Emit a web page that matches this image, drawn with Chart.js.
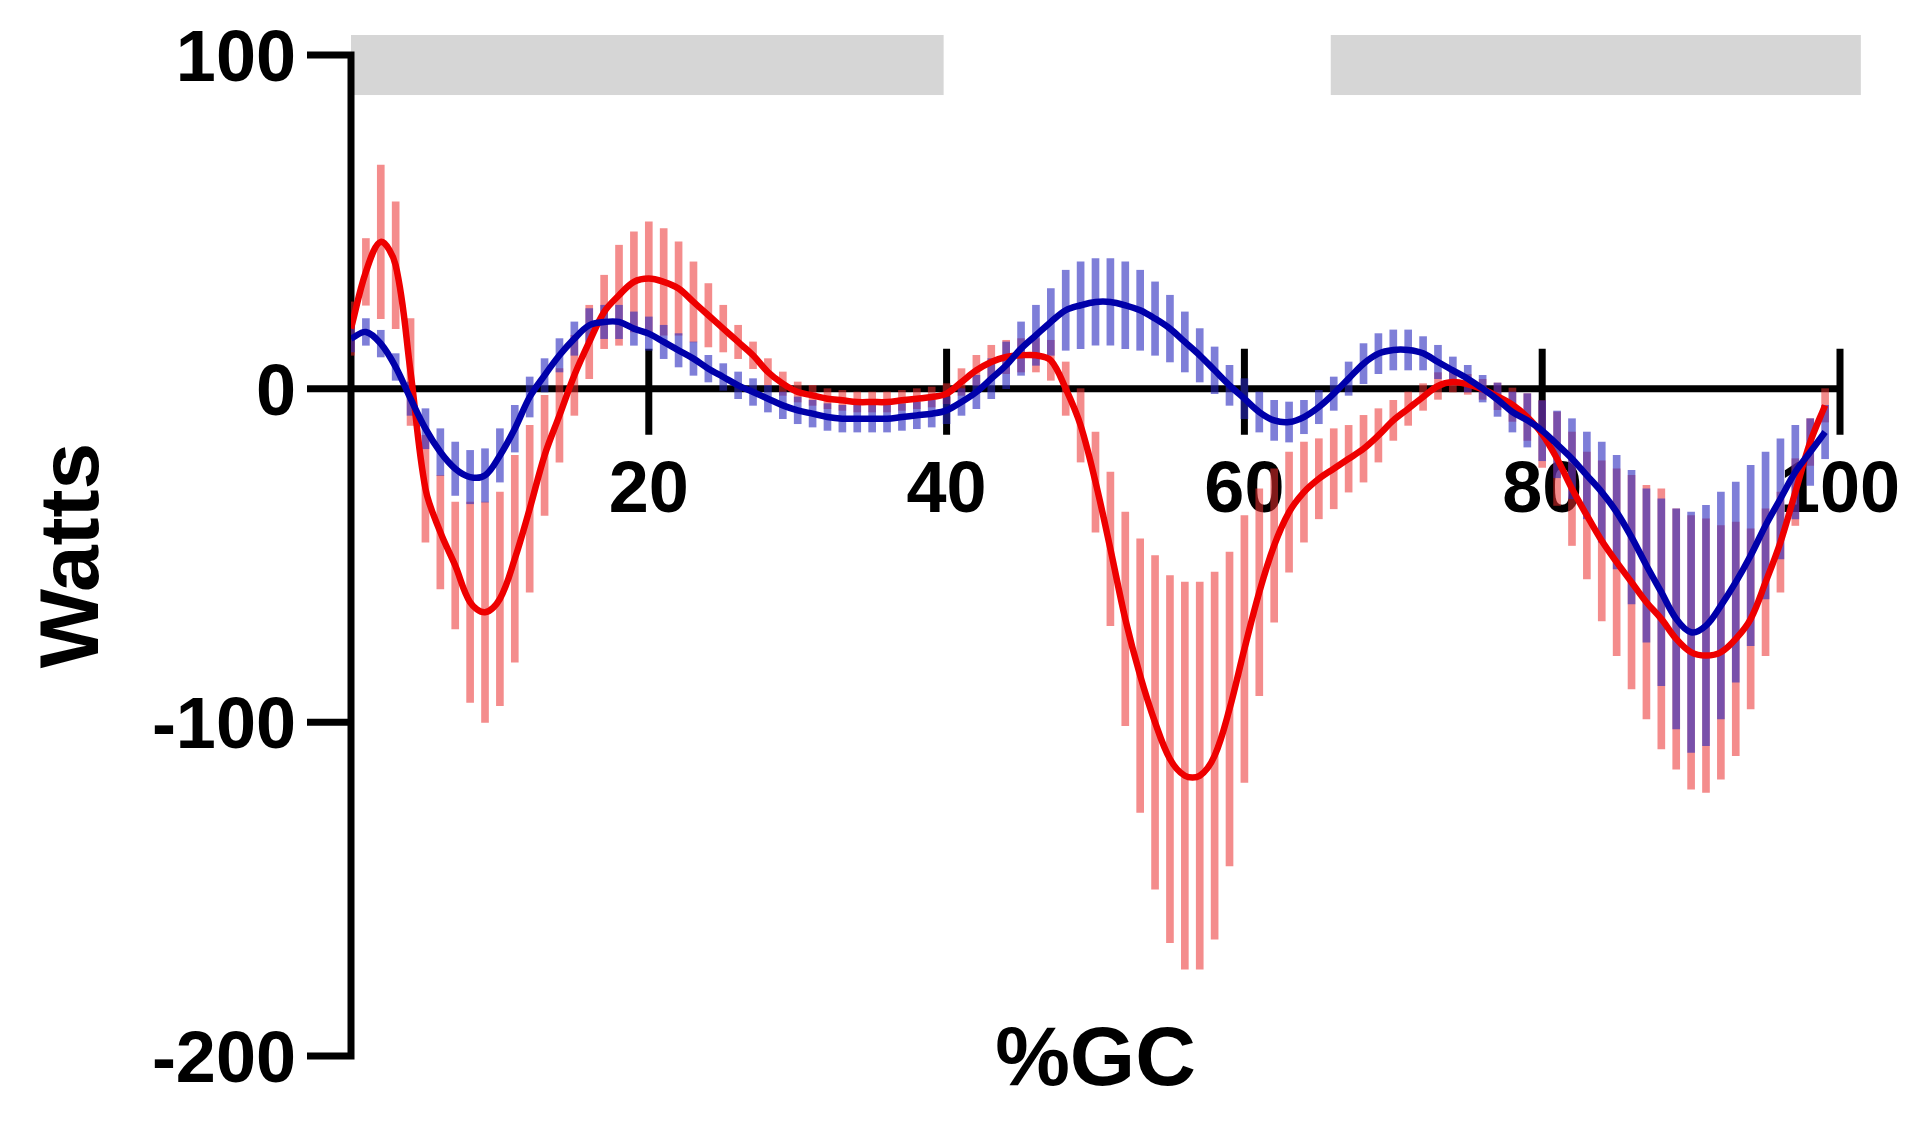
<!DOCTYPE html>
<html>
<head>
<meta charset="utf-8">
<title>Watts vs %GC</title>
<script src="https://cdn.jsdelivr.net/npm/chart.js@4.4.1/dist/chart.umd.min.js"></script>
<style>
  html, body { margin: 0; padding: 0; background: #fff; }
  #wrap { width: 1932px; height: 1135px; }
</style>
</head>
<body>
<div id="wrap"><canvas id="powerChart" width="1932" height="1135"></canvas></div>
<script>
// % gait cycle, one sample per percent
const gcPercent = [
  0, 1, 2, 3, 4, 5, 6, 7, 8, 9, 10, 11, 12, 13, 14, 15, 16, 17, 18, 19,
  20, 21, 22, 23, 24, 25, 26, 27, 28, 29, 30, 31, 32, 33, 34, 35, 36, 37, 38, 39,
  40, 41, 42, 43, 44, 45, 46, 47, 48, 49, 50, 51, 52, 53, 54, 55, 56, 57, 58, 59,
  60, 61, 62, 63, 64, 65, 66, 67, 68, 69, 70, 71, 72, 73, 74, 75, 76, 77, 78, 79,
  80, 81, 82, 83, 84, 85, 86, 87, 88, 89, 90, 91, 92, 93, 94, 95, 96, 97, 98, 99
];

const redMean = [
  18, 35, 44, 37, 5, -30, -43, -53, -64, -67, -63, -51, -36, -20, -8, 4, 14, 23, 28, 32,
  33, 32, 30, 26, 22, 18, 14, 10, 5, 1.5, -1, -2, -3, -3.5, -4, -4, -4, -3.5, -3, -2.5,
  -1.5, 2, 5.5, 8, 9.5, 10, 10, 8.5, 0, -11, -28, -48, -69, -86, -100, -111, -116, -116, -110, -96,
  -78, -61, -47, -37, -31, -27, -24, -21, -18, -14, -9.5, -6, -2.5, 0.8, 2, 1.3, -0.2, -2.3, -4.8, -8.5,
  -13.6, -21, -30, -38, -45.6, -52, -58, -64, -69, -75, -79, -80, -79, -75, -69, -58, -46, -31, -16, -5
];

const redSD = [
  8, 10, 23, 19, 16, 16, 17, 19, 30, 33, 32, 31, 25, 18, 14, 12, 11, 11, 15, 15,
  17, 16, 14, 12, 9.5, 7, 5, 4, 4, 3.5, 3, 3, 3, 3, 3, 3, 3, 3, 3, 3,
  3, 4, 4.5, 5, 5, 5, 5, 6, 8, 11, 15, 23, 32, 41, 50, 55, 58, 58, 55, 47,
  40, 31, 23, 18, 15, 12, 12, 10, 10, 8, 6, 5, 4, 4, 3, 3, 3, 4, 5, 7,
  10, 14, 17, 19, 24, 28, 32, 35, 39, 39, 41, 41, 38, 35, 27, 22, 15, 10, 7, 5
];

const blueMean = [
  15, 17, 13.5, 6.5, -3, -12, -19, -24, -26.5, -26, -20, -12, -2.5, 4, 10, 15, 19, 20, 20, 18,
  16.5, 14, 11.5, 9, 6, 3.5, 1, -1, -3, -5, -6.5, -7.5, -8.5, -9, -9, -9, -9, -8.5, -8, -7.5,
  -6.5, -4, -1, 3, 7, 12, 16, 20, 23.5, 25, 26, 26, 25, 23.5, 21, 18, 14, 10, 5.5, 1,
  -3, -7, -9.5, -10, -8.5, -5.5, -1.5, 3, 7.5, 10.5, 11.6, 11.6, 10.6, 8, 5.5, 3, 0, -3.3, -7, -9.5,
  -12.6, -16.7, -21, -26, -31, -37, -44.5, -53, -61, -69, -73, -71, -65, -58, -50, -41, -33, -25, -19, -13
];

const blueSD = [
  4, 4, 4, 4, 5, 6, 7, 8, 8, 8, 8, 7, 6, 5, 5, 5, 5, 5, 5, 5,
  5, 5, 5, 5, 4, 4, 4, 4, 4, 4, 4, 4, 4, 4, 4, 4, 4, 4, 4, 4,
  4, 4, 5, 6, 7, 8, 9, 10, 12, 13, 13, 13, 13, 12, 11, 10, 9, 8, 7, 6,
  6, 6, 6, 6, 5, 5, 5, 5, 6, 6, 6, 6, 5, 5, 4, 4, 4, 5, 6, 8,
  9, 10, 12, 13, 15, 17, 20, 23, 28, 33, 36, 36, 34, 30, 27, 22, 18, 14, 10, 8
];

const xTicks = [20, 40, 60, 80, 100];
const yTicks = [100, 0, -100, -200];

// grey phase bars above the plot: [start %GC, end %GC], drawn between two Watt levels
const phaseBars = [[0, 39.8], [65.8, 101.4]];
const phaseBarLevels = [88, 106];

const FONT = '"Liberation Sans", Arial, Helvetica, sans-serif';

function errorBars(means, sds) {
  return gcPercent.map((x, i) => ({ x, y: [means[i] - sds[i], means[i] + sds[i]] }));
}

function meanLine(means) {
  return gcPercent.map((x, i) => ({ x, y: means[i] }));
}

// axes in the GraphPad style: y axis on the left, x axis crossing at zero
const gcAxes = {
  id: 'gcAxes',
  beforeDatasetsDraw(chart) {
    const { ctx, scales: { x, y } } = chart;
    const x0 = x.getPixelForValue(0);
    const y0 = y.getPixelForValue(0);

    ctx.save();

    ctx.fillStyle = '#d6d6d6';
    phaseBars.forEach(([a, b]) => {
      const left = x.getPixelForValue(a);
      const right = x.getPixelForValue(b);
      const top = y.getPixelForValue(phaseBarLevels[1]);
      const bottom = y.getPixelForValue(phaseBarLevels[0]);
      ctx.fillRect(left, top, right - left, bottom - top);
    });

    ctx.strokeStyle = '#000';
    ctx.lineWidth = 7;
    ctx.lineCap = 'butt';
    ctx.beginPath();
    ctx.moveTo(x0, y.getPixelForValue(100) - 3.5);
    ctx.lineTo(x0, y.getPixelForValue(-200) + 3.5);
    yTicks.forEach((v) => {
      const py = y.getPixelForValue(v);
      ctx.moveTo(x0 - 44, py);
      ctx.lineTo(x0, py);
    });
    ctx.moveTo(x0, y0);
    ctx.lineTo(x.getPixelForValue(100) + 3.5, y0);
    xTicks.forEach((v) => {
      const px = x.getPixelForValue(v);
      ctx.moveTo(px, y0 - 40);
      ctx.lineTo(px, y0 + 46);
    });
    ctx.stroke();

    ctx.fillStyle = '#000';
    ctx.font = 'bold 72px ' + FONT;
    ctx.textBaseline = 'alphabetic';
    ctx.textAlign = 'right';
    yTicks.forEach((v) => ctx.fillText(String(v), x0 - 55, y.getPixelForValue(v) + 26));
    ctx.textAlign = 'center';
    xTicks.forEach((v) => ctx.fillText(String(v), x.getPixelForValue(v), y0 + 123));

    ctx.font = 'bold 84px ' + FONT;
    ctx.fillText('%GC', (x.left + x.right) / 2, y.getPixelForValue(-200) + 29);

    ctx.translate(x0 - 253, (y.top + y.bottom) / 2);
    ctx.rotate(-Math.PI / 2);
    ctx.fillText('Watts', 0, 0);

    ctx.restore();
  },
};

const ctx = document.getElementById('powerChart').getContext('2d');

const chart = new Chart(ctx, {
  type: 'line',
  data: {
    datasets: [
      {
        type: 'bar',
        label: 'Red SD',
        data: errorBars(redMean, redSD),
        backgroundColor: 'rgba(235,45,45,0.55)',
        borderWidth: 0,
        barThickness: 7,
        grouped: false,
        order: 4,
      },
      {
        type: 'bar',
        label: 'Blue SD',
        data: errorBars(blueMean, blueSD),
        backgroundColor: 'rgba(40,40,190,0.6)',
        borderWidth: 0,
        barThickness: 7,
        grouped: false,
        order: 3,
      },
      {
        label: 'Red mean',
        data: meanLine(redMean),
        borderColor: '#ee0000',
        borderWidth: 6.5,
        pointRadius: 0,
        tension: 0.35,
        fill: false,
        order: 2,
      },
      {
        label: 'Blue mean',
        data: meanLine(blueMean),
        borderColor: '#0000aa',
        borderWidth: 6.5,
        pointRadius: 0,
        tension: 0.35,
        fill: false,
        order: 1,
      },
    ],
  },
  options: {
    responsive: false,
    animation: false,
    devicePixelRatio: 1,
    layout: {
      padding: { left: 351, right: 92, top: 55, bottom: 79 },
    },
    plugins: {
      legend: { display: false },
      tooltip: { enabled: false },
    },
    scales: {
      x: { type: 'linear', min: 0, max: 100, offset: false, display: false },
      y: { type: 'linear', min: -200, max: 100, display: false },
    },
  },
  plugins: [gcAxes],
});
</script>
</body>
</html>
